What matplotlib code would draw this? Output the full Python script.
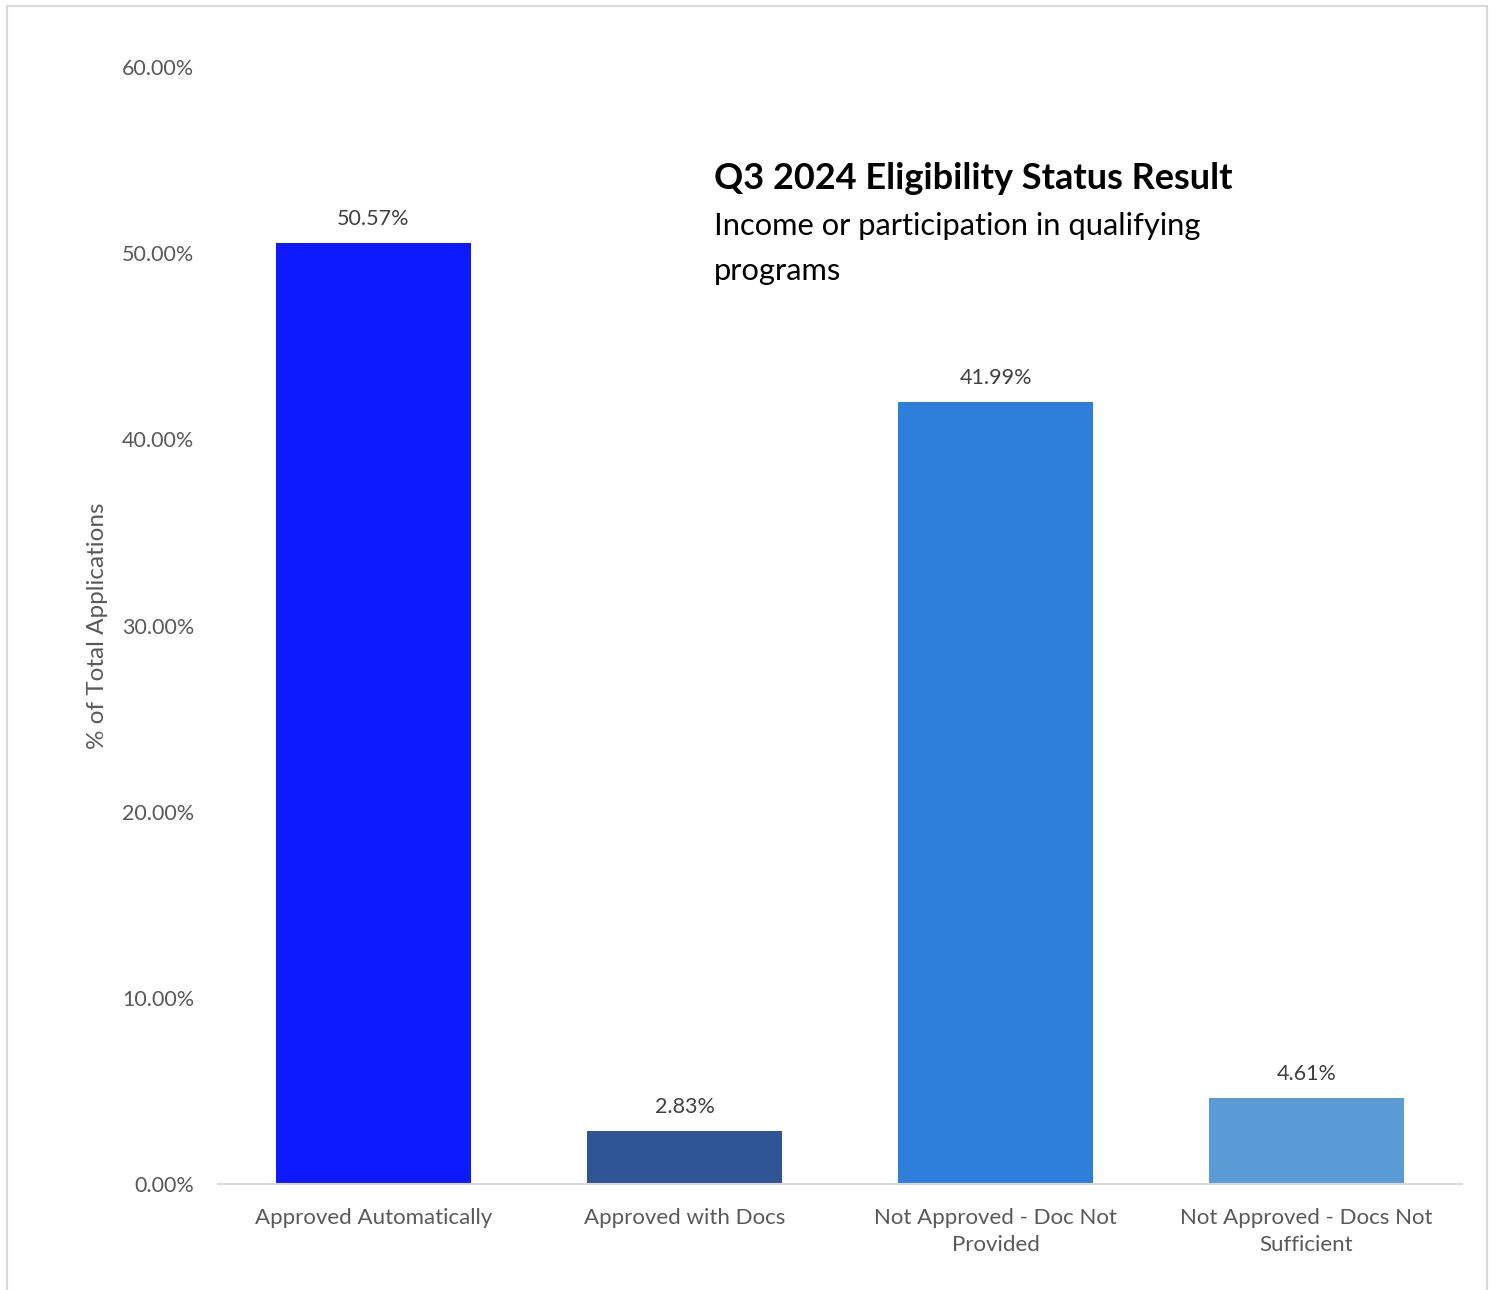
import matplotlib.pyplot as plt
from matplotlib.patches import Rectangle
from matplotlib.ticker import PercentFormatter

categories = ['Approved Automatically', 'Approved with Docs',
              'Not Approved - Doc Not\nProvided', 'Not Approved - Docs Not\nSufficient']
values = [50.57, 2.83, 41.99, 4.61]
colors = ['#0D19FF', '#2F5597', '#2E7FDB', '#5B9BD5']

plt.rcParams['font.family'] = ['Lato', 'DejaVu Sans']

fig = plt.figure(figsize=(14.94, 12.9), dpi=100)
ax = fig.add_axes([0.1459, 0.0822, 0.8327, 0.8658])

x = range(len(categories))
bars = ax.bar(x, values, width=0.63, color=colors)
for b, v in zip(bars, values):
    ax.text(b.get_x() + b.get_width() / 2, v + 0.75, '%.2f%%' % v,
            ha='center', va='bottom', fontsize=15.5, color='#404040')

ax.set_xlim(-0.5, 3.5)
ax.set_ylim(0, 60)
ax.set_yticks([0, 10, 20, 30, 40, 50, 60])
ax.yaxis.set_major_formatter(PercentFormatter(decimals=2))
ax.set_xticks(list(x))
ax.set_xticklabels(categories, linespacing=1.45)
ax.tick_params(axis='both', length=0, labelsize=15.5, labelcolor='#595959')
ax.tick_params(axis='x', labelsize=16, pad=17)
ax.tick_params(axis='y', pad=17)
for s in ['top', 'right', 'left']:
    ax.spines[s].set_visible(False)
ax.spines['bottom'].set_color('#D9D9D9')
ax.spines['bottom'].set_linewidth(1.5)
ax.set_ylabel('% of Total Applications', fontsize=17.5, color='#595959', labelpad=10)

fig.text(0.478, 0.862, 'Q3 2024 Eligibility Status Result', fontsize=26,
         fontweight='bold', color='black', ha='left', va='center')
fig.text(0.478, 0.825, 'Income or participation in qualifying', fontsize=22.2,
         color='black', ha='left', va='center')
fig.text(0.478, 0.790, 'programs', fontsize=22.2, color='black', ha='left', va='center')

fig.patches.append(Rectangle((0.005, -0.01), 0.99, 1.005, transform=fig.transFigure,
                             fill=False, edgecolor='#D9D9D9', linewidth=1.5))

fig.savefig('out.png')
